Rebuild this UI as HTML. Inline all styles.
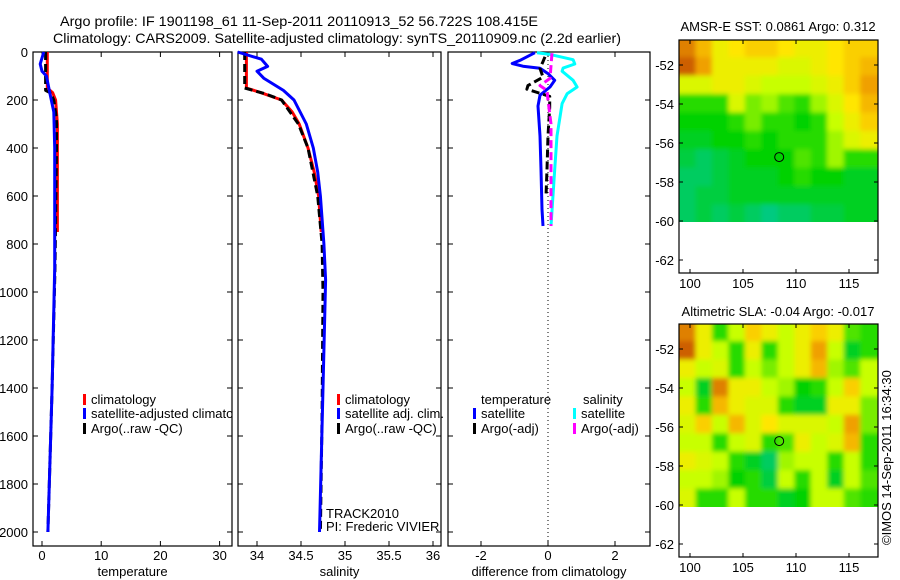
<!DOCTYPE html>
<html><head><meta charset="utf-8"><style>
body{margin:0;background:#fff}
svg{display:block;font-family:"Liberation Sans",sans-serif}
</style></head><body>
<svg id="c" width="900" height="580" xmlns="http://www.w3.org/2000/svg">
<defs>
<filter id="blur" x="0" y="0" width="1" height="1"><feGaussianBlur stdDeviation="2.5"/></filter>
<clipPath id="p1clip"><rect x="33" y="52" width="199" height="494"/></clipPath>
<clipPath id="m1clip"><rect x="679" y="40" width="199" height="182"/></clipPath>
<clipPath id="m2clip"><rect x="679" y="324" width="199" height="183"/></clipPath>
</defs>
<text x="299" y="26" font-size="14" textLength="478" lengthAdjust="spacingAndGlyphs" text-anchor="middle">Argo profile: IF 1901198_61 11-Sep-2011 20110913_52 56.722S 108.415E</text>
<text x="337" y="43" font-size="14" textLength="568" lengthAdjust="spacingAndGlyphs" text-anchor="middle">Climatology: CARS2009. Satellite-adjusted climatology: synTS_20110909.nc (2.2d earlier)</text>
<text x="778" y="31" font-size="13" text-anchor="middle">AMSR-E SST: 0.0861 Argo: 0.312</text>
<text x="778" y="316" font-size="13" text-anchor="middle">Altimetric SLA: -0.04 Argo: -0.017</text>
<text transform="translate(891,545) rotate(-90)" font-size="13">©IMOS 14-Sep-2011 16:34:30</text>
</svg>
<script>
// ---- data ----
const depthTicks=[0,200,400,600,800,1000,1200,1400,1600,1800,2000];
const tempTicks=[0,10,20,30];
const salTicks=[34,34.5,35,35.5,36];
const diffTicks=[-2,0,2];
const tClimD=[0,100,150,170,200,300,500,750];
const tClimV=[0.9,0.9,0.9,1.8,2.3,2.6,2.6,2.6];
const tArgoD=[0,100,160,170,200,280,400,900,1400,2000];
const tArgoV=[0.6,0.6,0.6,1.4,2.0,2.45,2.45,2.2,1.7,1.0];
const tSatD=[0,50,80,100,180,250,400,900,1400,2000];
const tSatV=[0.3,-0.3,0.0,0.75,1.4,2.0,2.15,2.15,1.7,1.0];
const sClimD=[0,150,170,200,250,300,400,500,600,750];
const sClimV=[33.88,33.88,34.05,34.28,34.4,34.48,34.58,34.65,34.7,34.73];
const sArgoD=[0,150,175,200,300,400,600,800,1000,1500,2000];
const sArgoV=[33.86,33.86,34.1,34.28,34.47,34.58,34.69,34.74,34.75,34.74,34.72];
const sSatD=[0,30,60,80,110,160,200,300,400,500,600,800,950,1400,2000];
const sSatV=[33.78,34.05,34.12,34.0,34.08,34.3,34.42,34.56,34.64,34.69,34.72,34.76,34.78,34.75,34.71];
const dTSatD=[3,35,48,59,68,90,118,146,180,225,350,490,656,725];
const dTSatV=[-0.39,-0.84,-1.07,-0.75,-0.24,0,0.2,0.06,-0.24,-0.3,-0.24,-0.21,-0.18,-0.15];
const dSSatD=[3,10,32,50,67,80,118,146,174,215,350,490,725];
const dSSatV=[-0.33,0.06,0.75,0.8,0.45,0.42,0.75,0.87,0.57,0.42,0.27,0.2,0.09];
const dTArgoD=[20,40,68,105,140,155,185,230,350,490,600];
const dTArgoV=[-0.09,-0.15,-0.24,-0.15,-0.6,-0.63,0.05,0.05,0,-0.03,-0.06];
const dSArgoD=[5,110,140,160,200,300,490,725];
const dSArgoV=[0.12,0.06,-0.24,-0.03,0,0.09,0.09,0.09];
const lonTicks=[100,105,110,115];
const latTicks=[-52,-54,-56,-58,-60,-62];
const argoLon=108.415, argoLat=-56.722;
const sstGrid=[
[0.85,0.75,0.6,0.65,0.7,0.7,0.65,0.6,0.6,0.65,0.7,0.7],
[0.9,0.8,0.6,0.6,0.6,0.6,0.55,0.55,0.6,0.65,0.7,0.75],
[0.55,0.55,0.6,0.6,0.55,0.5,0.5,0.5,0.55,0.6,0.7,0.8],
[0.3,0.3,0.3,0.55,0.4,0.45,0.35,0.3,0.45,0.55,0.65,0.75],
[0.25,0.25,0.25,0.3,0.4,0.3,0.3,0.25,0.3,0.5,0.6,0.7],
[0.2,0.2,0.25,0.25,0.3,0.25,0.3,0.3,0.3,0.45,0.55,0.6],
[0.15,0.1,0.15,0.2,0.25,0.25,0.25,0.35,0.3,0.45,0.3,0.3],
[0.1,0.1,0.15,0.2,0.2,0.2,0.25,0.3,0.25,0.25,0.2,0.2],
[0.1,0.15,0.15,0.2,0.2,0.2,0.2,0.2,0.2,0.2,0.2,0.2],
[0.1,0.15,0.1,0.15,0.1,0.05,0.1,0.1,0.15,0.15,0.2,0.2]];
const slaGrid=[
[0.85,0.6,0.3,0.5,0.7,0.6,0.5,0.6,0.7,0.6,0.35,0.3],
[0.9,0.6,0.5,0.3,0.6,0.3,0.5,0.6,0.8,0.5,0.2,0.3],
[0.6,0.5,0.55,0.3,0.5,0.4,0.5,0.6,0.75,0.45,0.35,0.5],
[0.5,0.2,0.85,0.6,0.6,0.5,0.45,0.25,0.3,0.5,0.7,0.5],
[0.6,0.3,0.75,0.6,0.55,0.55,0.3,0.2,0.2,0.6,0.6,0.4],
[0.55,0.7,0.5,0.75,0.55,0.65,0.55,0.55,0.55,0.5,0.8,0.4],
[0.5,0.5,0.3,0.5,0.55,0.3,0.35,0.6,0.5,0.55,0.75,0.3],
[0.6,0.55,0.5,0.3,0.2,0.1,0.45,0.5,0.5,0.3,0.5,0.3],
[0.5,0.5,0.45,0.25,0.3,0.15,0.5,0.3,0.5,0.2,0.5,0.35],
[0.55,0.3,0.3,0.5,0.3,0.3,0.2,0.25,0.5,0.5,0.35,0.3]];

// ---- drawing ----
const svg=document.getElementById('c');
const NS='http://www.w3.org/2000/svg';
function mk(tag,attrs,parent){const e=document.createElementNS(NS,tag);for(const k in attrs)e.setAttribute(k,attrs[k]);(parent||svg).appendChild(e);return e;}
const yD=d=>52+d*0.24;
const TOP=52, BOT=546;
const panels=[
 {x0:33,x1:232,f:v=>42+v*5.92,ticks:tempTicks,label:'temperature',name:'temperature-panel'},
 {x0:238,x1:441,f:v=>257+(v-34)*88,ticks:salTicks,label:'salinity',name:'salinity-panel'},
 {x0:448,x1:650,f:v=>548+v*33.5,ticks:diffTicks,label:'difference from climatology',name:'difference-panel'}];
panels.forEach((p,i)=>{
 const g=mk('g',{});
 
 
 const r=mk('rect',{x:p.x0,y:TOP,width:p.x1-p.x0,height:BOT-TOP,fill:'none',stroke:'#000','stroke-width':1.2},g);
 
 
 p.ticks.forEach(t=>{const x=p.f(t);
  mk('line',{x1:x,x2:x,y1:BOT,y2:BOT-5,stroke:'#000'},g);
  mk('line',{x1:x,x2:x,y1:TOP,y2:TOP+5,stroke:'#000'},g);
  const tx=mk('text',{x:x,y:BOT+14,'font-size':13,'text-anchor':'middle'},g);tx.textContent=t;
  
  });
 depthTicks.forEach(d=>{const y=yD(d);
  mk('line',{x1:p.x0,x2:p.x0+5,y1:y,y2:y,stroke:'#000'},g);
  mk('line',{x1:p.x1,x2:p.x1-5,y1:y,y2:y,stroke:'#000'},g);
  if(i==0){const tx=mk('text',{x:28,y:y+5,'font-size':13,'text-anchor':'end'},g);tx.textContent=d;
   
   }});
 const lb=mk('text',{x:(p.x0+p.x1)/2,y:576,'font-size':13,'text-anchor':'middle'},g);lb.textContent=p.label;
 
 
});
function line(p,D,V,color,dash,name){
 const pts=D.map((d,k)=>p.f(V[k]).toFixed(1)+','+yD(d).toFixed(1)).join(' ');
 const e=mk('polyline',{points:pts,fill:'none',stroke:color,'stroke-width':3,'stroke-linejoin':'round'});
 if(dash)e.setAttribute('stroke-dasharray',dash);
 
 
}
line(panels[0],tClimD,tClimV,'#f00',null,'temp-climatology-line');
line(panels[0],tArgoD,tArgoV,'#000','8 4','temp-argo-line');
line(panels[0],tSatD,tSatV,'#00f',null,'temp-satellite-line');
line(panels[1],sClimD,sClimV,'#f00',null,'sal-climatology-line');
line(panels[1],sArgoD,sArgoV,'#000','8 4','sal-argo-line');
line(panels[1],sSatD,sSatV,'#00f',null,'sal-satellite-line');
const z=mk('line',{x1:548,x2:548,y1:TOP,y2:BOT,stroke:'#000','stroke-dasharray':'1 3'});


line(panels[2],dSSatD,dSSatV,'#0ff',null,'diff-sal-satellite-line');
line(panels[2],dTSatD,dTSatV,'#00f',null,'diff-temp-satellite-line');
line(panels[2],dTArgoD,dTArgoV,'#000','8 4','diff-temp-argo-line');
line(panels[2],dSArgoD,dSArgoV,'#f0f','8 4','diff-sal-argo-line');
function legend(x,y,color,label,name,clip){
 const g=mk('g',{});
 
 
 if(clip)g.setAttribute('clip-path','url(#'+clip+')');
 if(color)mk('rect',{x:x,y:y-10,width:3,height:11,fill:color},g);
 const t=mk('text',{x:x+(color?8:0),y:y,'font-size':13},g);t.textContent=label;
}
legend(83,404,'#f00','climatology','legend-climatology');
legend(83,418,'#00f','satellite-adjusted climatology','legend-satellite-adjusted','p1clip');
legend(83,433,'#000','Argo(..raw -QC)','legend-argo');
legend(337,404,'#f00','climatology','legend2-climatology');
legend(337,418,'#00f','satellite adj. clim.','legend2-satellite');
legend(337,433,'#000','Argo(..raw -QC)','legend2-argo');
legend(481,404,null,'temperature','legend3-temperature-header');
legend(473,418,'#00f','satellite','legend3-temp-satellite');
legend(473,433,'#000','Argo(-adj)','legend3-temp-argo');
legend(583,404,null,'salinity','legend3-salinity-header');
legend(573,418,'#0ff','satellite','legend3-sal-satellite');
legend(573,433,'#f0f','Argo(-adj)','legend3-sal-argo');
const t1=mk('text',{x:326,y:518,'font-size':13});t1.textContent='TRACK2010';


const t2=mk('text',{x:326,y:531,'font-size':13});t2.textContent='PI: Frederic VIVIER';



// maps
const stops=[[0,[0,200,160]],[0.25,[0,210,0]],[0.5,[200,255,0]],[0.65,[255,230,0]],[0.8,[240,160,0]],[1,[170,30,0]]];
function cmap(v){for(let i=1;i<stops.length;i++){if(v<=stops[i][0]){const a=stops[i-1],b=stops[i],t=(v-a[0])/(b[0]-a[0]);
 return 'rgb('+a[1].map((c,k)=>Math.round(c+(b[1][k]-c)*t)).join(',')+')';}}return 'rgb(170,30,0)';}
function drawMap(grid,y0,y1,lat52y,name,clip){
 const g=mk('g',{});
 
 
 const lx=lon=>690+(lon-100)*10.6, ly=lat=>lat52y+(-52-lat)*19.5;
 const latTop=-50.65, latBot=-60.1, lonL=98.96, lonR=117.6;
 const rows=grid.length, cols=grid[0].length;
 const dLat=(latTop-latBot)/rows, dLon=(lonR-lonL)/cols;
 const cg=mk('g',{'clip-path':'url(#'+clip+')'},g);
 const bg=mk('g',{filter:'url(#blur)'},cg);
 grid.forEach((row,r)=>row.forEach((v,c)=>{
  const x=lx(lonL+c*dLon), y=ly(latTop-r*dLat);
  const x0=c==0?x-8:x, y0c=r==0?y-8:y;
  const x1=c==cols-1?lx(lonL+(c+1)*dLon)+8:lx(lonL+(c+1)*dLon)+0.5;
  const yb=r==rows-1?ly(latTop-(r+1)*dLat)+8:ly(latTop-(r+1)*dLat)+0.5;
  const cell=mk('rect',{x:x0,y:y0c,width:x1-x0,height:yb-y0c,fill:cmap(v)},bg);
  
  
 }));
 mk('rect',{x:679,y:y0,width:199,height:y1-y0,fill:'none',stroke:'#000','stroke-width':1.2},g);
 lonTicks.forEach(l=>{const x=lx(l);mk('line',{x1:x,x2:x,y1:y1,y2:y1-4,stroke:'#000'},g);mk('line',{x1:x,x2:x,y1:y0,y2:y0+4,stroke:'#000'},g);
  const t=mk('text',{x:x,y:y1+15,'font-size':13,'text-anchor':'middle'},g);t.textContent=l;
  
  });
 latTicks.forEach(l=>{const y=ly(l);mk('line',{x1:679,x2:683,y1:y,y2:y,stroke:'#000'},g);mk('line',{x1:878,x2:874,y1:y,y2:y,stroke:'#000'},g);
  const t=mk('text',{x:674,y:y+5,'font-size':13,'text-anchor':'end'},g);t.textContent=l;
  
  });
 const c=mk('circle',{cx:lx(argoLon),cy:ly(argoLat),r:4.5,fill:'none',stroke:'#000','stroke-width':1},g);
 
 
}
drawMap(sstGrid,40,273,65,'sst-map','m1clip');
drawMap(slaGrid,324,557,349,'sla-map','m2clip');
</script>
</body></html>
